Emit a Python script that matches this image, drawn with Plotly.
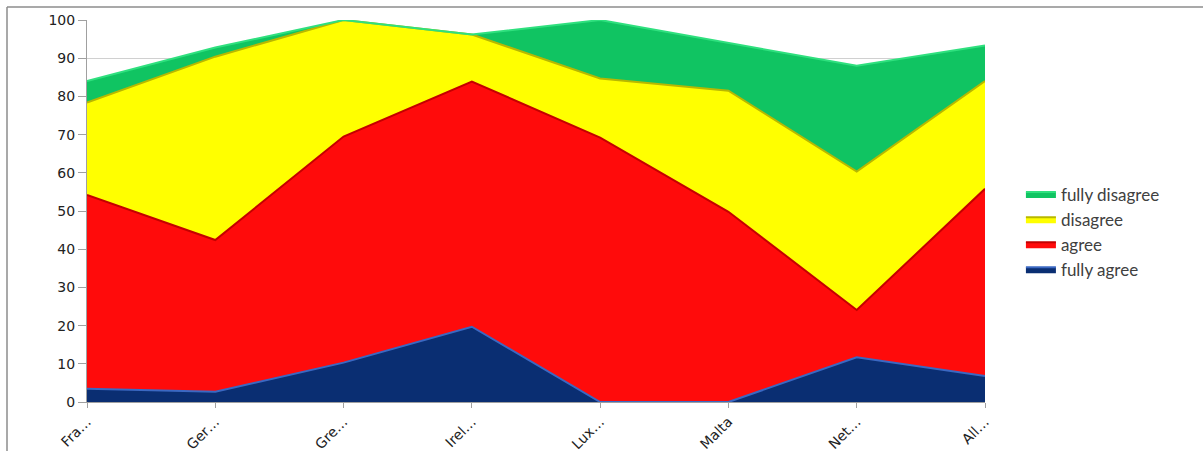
import plotly.graph_objects as go

# Survey answers per country (percent of respondents)
countries = ["Fra…", "Ger…", "Gre…", "Irel…", "Lux…", "Malta", "Net…", "All…"]
fully_agree = [3.5, 2.7, 10.3, 19.7, 0.0, 0.0, 11.7, 6.8]
agree = [50.7, 39.7, 59.2, 64.2, 69.2, 49.8, 12.4, 49.0]
disagree = [24.2, 48.0, 30.5, 12.3, 15.5, 31.7, 36.2, 28.2]
fully_disagree = [5.6, 2.4, 0.0, 0.0, 15.3, 12.4, 27.7, 9.3]

y_ticks = list(range(0, 101, 10))

series = [
    ("fully agree", fully_agree, "#0A2E72", "#3B68C2"),
    ("agree", agree, "#FF0B0B", "#C40000"),
    ("disagree", disagree, "#FFFF00", "#B8B800"),
    ("fully disagree", fully_disagree, "#10C462", "#2FE07E"),
]

x_pos = list(range(len(countries)))

fig = go.Figure()
for name, vals, fill, edge in series:
    fig.add_trace(go.Scatter(
        x=x_pos, y=vals, name=name, mode="lines",
        stackgroup="one", fillcolor=fill,
        line=dict(color=edge, width=2),
        hoverinfo="x+y+name",
    ))

fig.update_layout(
    width=1203, height=451,
    margin=dict(l=87, r=218, t=20, b=49),
    paper_bgcolor="white", plot_bgcolor="white",
    showlegend=True,
    legend=dict(
        traceorder="reversed",
        x=1.04, xanchor="left", y=0.445, yanchor="middle",
        font=dict(family="Lato", size=17, color="#404040"),
        itemwidth=30, tracegroupgap=3,
        bgcolor="rgba(0,0,0,0)",
    ),
    xaxis=dict(
        range=[0, len(countries) - 1],
        tickmode="array", tickvals=x_pos, ticktext=countries,
        tickangle=-45, automargin=False,
        showgrid=False, zeroline=False,
        showline=True, linecolor="#A0A0A0", linewidth=1,
        ticks="outside", ticklen=5, tickcolor="#A0A0A0",
        tickfont=dict(family="DejaVu Sans", size=14, color="#222222"),
    ),
    yaxis=dict(
        range=[0, 100], automargin=False,
        tickmode="array", tickvals=y_ticks,
        showgrid=True, gridcolor="#D0D0D0", gridwidth=1,
        zeroline=False,
        showline=True, linecolor="#A0A0A0", linewidth=1,
        ticks="outside", ticklen=8, tickcolor="#A0A0A0",
        tickfont=dict(family="DejaVu Sans", size=14, color="#222222"),
    ),
    shapes=[
        dict(type="line", xref="paper", yref="paper",
             x0=-80 / 898, x1=1.25, y0=1 + 13 / 382, y1=1 + 13 / 382,
             line=dict(color="#8C8C8C", width=1.5)),
        dict(type="line", xref="paper", yref="paper",
             x0=-80 / 898, x1=-80 / 898, y0=-0.2, y1=1 + 13 / 382,
             line=dict(color="#8C8C8C", width=1.5)),
    ],
)

fig.write_html("out.html")
